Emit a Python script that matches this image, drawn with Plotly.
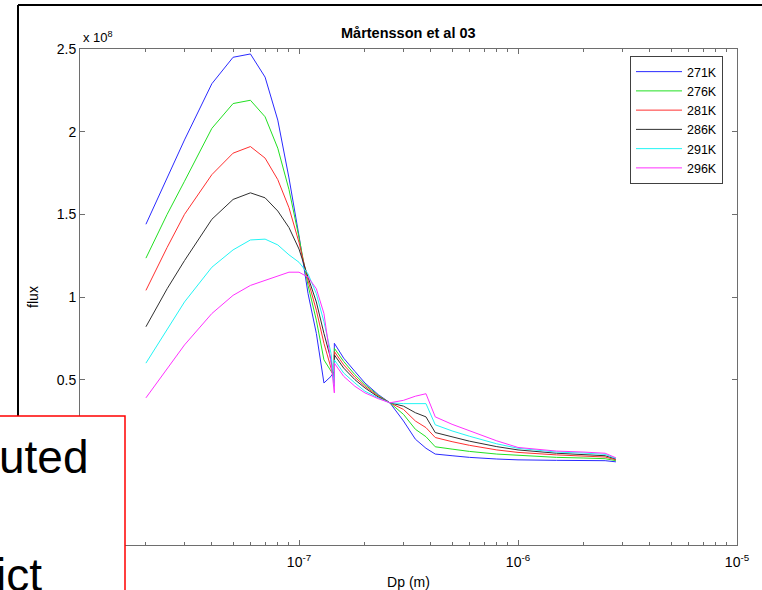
import plotly.graph_objects as go

# ---------------- data (flux in units of 1e8) ----------------
dp = [2e-8, 2.5e-8, 3e-8, 4e-8, 5e-8, 6e-8, 7e-8, 8e-8, 9e-8, 1e-7,
      1.1e-7, 1.2e-7, 1.3e-7, 1.4e-7, 1.45e-7, 1.45e-7, 1.6e-7, 1.8e-7, 2e-7, 2.3e-7,
      2.6e-7, 3e-7, 3.4e-7, 3.8e-7, 4.19e-7, 5e-7, 6e-7, 8e-7, 1e-6, 1.5e-6,
      2e-6, 2.5e-6, 2.8e-6]

flux_271 = [1.44, 1.72, 1.95, 2.29, 2.45, 2.47, 2.33, 2.07, 1.72, 1.37,
            1.02, 0.78, 0.48, 0.52, 0.55, 0.72, 0.63, 0.55, 0.48, 0.41,
            0.36, 0.25, 0.14, 0.085, 0.05, 0.04, 0.03, 0.02, 0.015, 0.012,
            0.012, 0.010, 0.003]
flux_276 = [1.235, 1.50, 1.70, 2.02, 2.17, 2.19, 2.09, 1.90, 1.65, 1.36,
            1.07, 0.86, 0.62, 0.55, 0.52, 0.69, 0.61, 0.53, 0.47, 0.405,
            0.36, 0.29, 0.20, 0.155, 0.094, 0.08, 0.066, 0.05, 0.043, 0.03,
            0.026, 0.022, 0.010]
flux_281 = [1.04, 1.30, 1.50, 1.74, 1.87, 1.91, 1.84, 1.71, 1.54, 1.33,
            1.10, 0.92, 0.72, 0.58, 0.50, 0.67, 0.59, 0.515, 0.46, 0.40,
            0.36, 0.32, 0.25, 0.21, 0.15, 0.125, 0.103, 0.075, 0.06, 0.045,
            0.037, 0.032, 0.015]
flux_286 = [0.82, 1.05, 1.22, 1.47, 1.59, 1.63, 1.60, 1.52, 1.42, 1.29,
            1.12, 0.97, 0.78, 0.62, 0.48, 0.65, 0.57, 0.50, 0.45, 0.395,
            0.36, 0.34, 0.30, 0.275, 0.18, 0.155, 0.128, 0.095, 0.075, 0.055,
            0.046, 0.040, 0.020]
flux_291 = [0.60, 0.80, 0.97, 1.18, 1.285, 1.345, 1.35, 1.315, 1.255, 1.21,
            1.14, 1.02, 0.85, 0.66, 0.46, 0.62, 0.54, 0.48, 0.43, 0.39,
            0.36, 0.355, 0.355, 0.355, 0.227, 0.19, 0.158, 0.112, 0.085, 0.062,
            0.056, 0.048, 0.023]
flux_296 = [0.39, 0.57, 0.71, 0.90, 1.01, 1.07, 1.10, 1.125, 1.15, 1.15,
            1.12, 1.05, 0.90, 0.60, 0.42, 0.60, 0.52, 0.46, 0.42, 0.385,
            0.36, 0.375, 0.40, 0.415, 0.275, 0.23, 0.19, 0.13, 0.09, 0.068,
            0.062, 0.055, 0.027]

series_names = ["271K", "276K", "281K", "286K", "291K", "296K"]
series_values = [flux_271, flux_276, flux_281, flux_286, flux_291, flux_296]
series_colors = ["#2a2aff", "#22e022", "#ff3030", "#303030", "#22f5f5", "#ff30ff"]

# labels at 0 / -0.5 and 10^-8 sit under the overlapping text box, so only visible ones
y_tickvals = [0.5, 1, 1.5, 2, 2.5]
y_ticktext = ["0.5", "1", "1.5", "2", "2.5"]
x_tickvals = [1e-7, 1e-6, 1e-5]
x_ticktext = ["10<sup>-7</sup>", "10<sup>-6</sup>", "10<sup>-5</sup>"]
x_minor = [m * d for d in [1e-8, 1e-7, 1e-6] for m in range(2, 10)]

FONT = "Arial, Liberation Sans, sans-serif"
AX = "#6e6e6e"

fig = go.Figure()
for name, vals, col in zip(series_names, series_values, series_colors):
    fig.add_trace(go.Scatter(x=dp, y=vals, mode="lines", name=name,
                             line=dict(color=col, width=1)))

W, H = 762, 590
L, R, T, B = 80, 25, 49, 45
pw, ph = W - L - R, H - T - B


def px(x):
    return (x - L) / pw


def py(y):
    return (H - B - y) / ph


fig.update_layout(
    width=W, height=H,
    margin=dict(l=L, r=R, t=T, b=B, autoexpand=False),
    paper_bgcolor="white", plot_bgcolor="white",
    font=dict(family=FONT, size=14, color="black"),
    showlegend=True,
    legend=dict(x=px(630), y=py(56), xanchor="left", yanchor="top",
                bgcolor="white", bordercolor="#404040", borderwidth=1,
                font=dict(family=FONT, size=12.5, color="black"),
                tracegroupgap=0, itemwidth=46),
    xaxis=dict(type="log", range=[-8, -5], tickvals=x_tickvals, ticktext=x_ticktext,
               automargin=False,
               showgrid=False, zeroline=False, showline=True, linecolor=AX, linewidth=1,
               mirror="ticks", ticks="inside", ticklen=5, tickcolor=AX,
               ticklabelstandoff=4,
               minor=dict(tickvals=x_minor, ticks="inside", ticklen=3, tickcolor=AX, showgrid=False),
               tickfont=dict(family=FONT, size=14, color="black"),
               title=dict(text="Dp (m)", font=dict(family=FONT, size=14), standoff=8)),
    yaxis=dict(range=[-0.5, 2.5], tickvals=y_tickvals, ticktext=y_ticktext,
               automargin=False,
               showgrid=False, zeroline=False, showline=True, linecolor=AX, linewidth=1,
               mirror="ticks", ticks="inside", ticklen=5, tickcolor=AX,
               tickfont=dict(family=FONT, size=14, color="black"),
               title=dict(text="flux", font=dict(family=FONT, size=14), standoff=14)),
    shapes=[
        # outer slide frame
        dict(type="line", xref="paper", yref="paper", x0=px(18), x1=px(770), y0=py(5), y1=py(5),
             line=dict(color="black", width=2), layer="above"),
        dict(type="line", xref="paper", yref="paper", x0=px(18), x1=px(18), y0=py(5), y1=py(416),
             line=dict(color="black", width=2), layer="above"),
        # overlapping red text box
        dict(type="rect", xref="paper", yref="paper", x0=px(-10), x1=px(125), y0=py(416), y1=py(600),
             fillcolor="white", line=dict(color="red", width=1.5), layer="above"),
    ],
    annotations=[
        dict(text="<b>Mårtensson et al 03</b>", xref="paper", yref="paper",
             x=px(408), y=py(33), xanchor="center", yanchor="middle", showarrow=False,
             font=dict(family=FONT, size=14.5, color="black")),
        dict(text="x 10<sup>8</sup>", xref="paper", yref="paper",
             x=px(81), y=py(37), xanchor="left", yanchor="middle", showarrow=False,
             font=dict(family=FONT, size=13, color="black")),
        dict(text="uted", xref="paper", yref="paper",
             x=px(91), y=py(457), xanchor="right", yanchor="middle", showarrow=False,
             font=dict(family=FONT, size=46, color="black")),
        dict(text="ict", xref="paper", yref="paper",
             x=px(44), y=py(575), xanchor="right", yanchor="middle", showarrow=False,
             font=dict(family=FONT, size=46, color="black")),
    ],
)

fig.write_html("out.html")
